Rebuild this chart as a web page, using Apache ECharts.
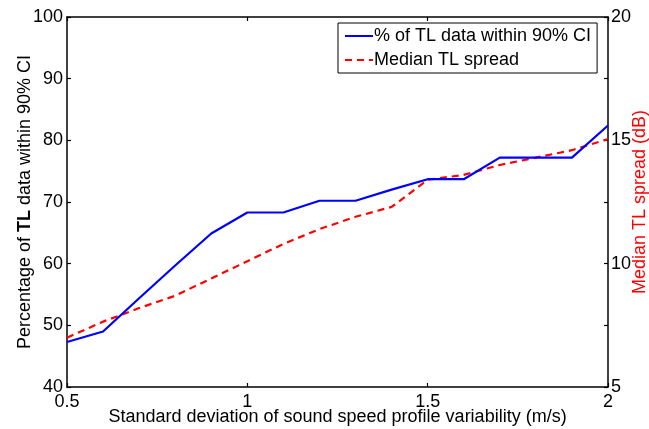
<!DOCTYPE html>
<html>
<head>
<meta charset="utf-8">
<script src="https://cdn.jsdelivr.net/npm/echarts@6/dist/echarts.min.js"></script>
<style>
html,body{margin:0;padding:0;background:#fff;}
#chart{width:649px;height:429px;}
</style>
</head>
<body>
<div id="chart"></div>
<script>
var xValues = [0.5, 0.6, 0.7, 0.8, 0.9, 1.0, 1.1, 1.2, 1.3, 1.4, 1.5, 1.6, 1.7, 1.8, 1.9, 2.0];
var pctWithinCI = [47.3, 49.0, 54.4, 59.7, 64.9, 68.3, 68.3, 70.2, 70.2, 72.0, 73.7, 73.7, 77.2, 77.2, 77.2, 82.4];
var medianSpread = [7.0, 7.65, 8.2, 8.7, 9.4, 10.1, 10.8, 11.4, 11.9, 12.3, 13.4, 13.6, 14.0, 14.3, 14.6, 15.05];
var leftTicks = [40, 50, 60, 70, 80, 90, 100];
var rightTicks = [5, 10, 15, 20];
var xTicks = [0.5, 1, 1.5, 2];

var FONT = '"Liberation Sans", Arial, Helvetica, sans-serif';

function pairs(xs, ys) {
  return xs.map(function (x, i) { return [x, ys[i]]; });
}

var chart = echarts.init(document.getElementById('chart'), null, {renderer: 'canvas'});
chart.setOption({
  animation: false,
  backgroundColor: '#fff',
  textStyle: {fontFamily: FONT},
  grid: {left: 67, right: 41, top: 17, bottom: 42, containLabel: false, outerBoundsMode: 'none'},
  legend: {
    orient: 'vertical',
    left: 338,
    top: 23,
    width: 259,
    padding: [4, 6, 4, 6],
    itemGap: 6,
    itemWidth: 28,
    itemHeight: 18,
    borderColor: '#000',
    borderWidth: 1,
    backgroundColor: '#fff',
    itemStyle: {color: 'rgba(0,0,0,0)', borderColor: 'rgba(0,0,0,0)', borderWidth: 0, opacity: 0},
    textStyle: {fontFamily: FONT, fontSize: 18, color: '#000', padding: [0, 0, 0, -4]},
    data: ['% of TL data within 90% CI', 'Median TL spread']
  },
  xAxis: [{
    type: 'value', min: 0.5, max: 2, interval: 0.5, position: 'bottom',
    name: 'Standard deviation of sound speed profile variability (m/s)',
    nameLocation: 'middle', nameGap: 21, nameMoveOverlap: false,
    nameTextStyle: {fontFamily: FONT, fontSize: 18, color: '#000'},
    axisLine: {show: true, lineStyle: {color: '#000', width: 1.5}},
    axisTick: {show: true, inside: true, length: 4, lineStyle: {color: '#000', width: 1.2}},
    axisLabel: {show: true, margin: 6, fontFamily: FONT, fontSize: 18, color: '#000',
      formatter: function (v) { return xTicks.indexOf(v) >= 0 ? String(v) : ''; }},
    splitLine: {show: false}
  }, {
    type: 'value', min: 0.5, max: 2, interval: 0.5, position: 'top',
    axisLine: {show: true, lineStyle: {color: '#000', width: 1.5}},
    axisTick: {show: true, inside: true, length: 4, lineStyle: {color: '#000', width: 1.2}},
    axisLabel: {show: false},
    splitLine: {show: false}
  }],
  yAxis: [{
    type: 'value', min: 40, max: 100, interval: 10, position: 'left',
    name: '{n|Percentage of }{b|TL}{n| data within 90% CI}',
    nameLocation: 'middle', nameGap: 33, nameRotate: 90, nameMoveOverlap: false,
    nameTextStyle: {fontFamily: FONT, fontSize: 18, color: '#000',
      rich: {n: {fontFamily: FONT, fontSize: 18, color: '#000'},
             b: {fontFamily: FONT, fontSize: 18, color: '#000', fontWeight: 'bold'}}},
    axisLine: {show: true, lineStyle: {color: '#000', width: 1.5}},
    axisTick: {show: true, inside: true, length: 4, lineStyle: {color: '#000', width: 1.2}},
    axisLabel: {show: true, margin: 4, fontFamily: FONT, fontSize: 18, color: '#000',
      formatter: function (v) { return leftTicks.indexOf(v) >= 0 ? String(v) : ''; }},
    splitLine: {show: false}
  }, {
    type: 'value', min: 5, max: 20, interval: 2.5, position: 'right',
    name: 'Median TL spread (dB)',
    nameLocation: 'middle', nameGap: 23, nameRotate: 90, nameMoveOverlap: false,
    nameTextStyle: {fontFamily: FONT, fontSize: 18, color: '#ff0000'},
    axisLine: {show: true, lineStyle: {color: '#000', width: 1.5}},
    axisTick: {show: true, inside: true, length: 4, lineStyle: {color: '#000', width: 1.2}},
    axisLabel: {show: true, margin: 3, fontFamily: FONT, fontSize: 18, color: '#000',
      formatter: function (v) { return rightTicks.indexOf(v) >= 0 ? String(v) : ''; }},
    splitLine: {show: false}
  }],
  series: [{
    name: '% of TL data within 90% CI',
    type: 'line',
    xAxisIndex: 0, yAxisIndex: 0,
    symbol: 'none',
    data: pairs(xValues, pctWithinCI),
    lineStyle: {color: '#0000ff', width: 2.2},
    itemStyle: {color: '#0000ff'},
    z: 3
  }, {
    name: 'Median TL spread',
    type: 'line',
    xAxisIndex: 0, yAxisIndex: 1,
    symbol: 'none',
    data: pairs(xValues, medianSpread),
    lineStyle: {color: '#ff0000', width: 2.2, type: [7, 5]},
    itemStyle: {color: '#ff0000'},
    z: 2
  }]
});
</script>
</body>
</html>
